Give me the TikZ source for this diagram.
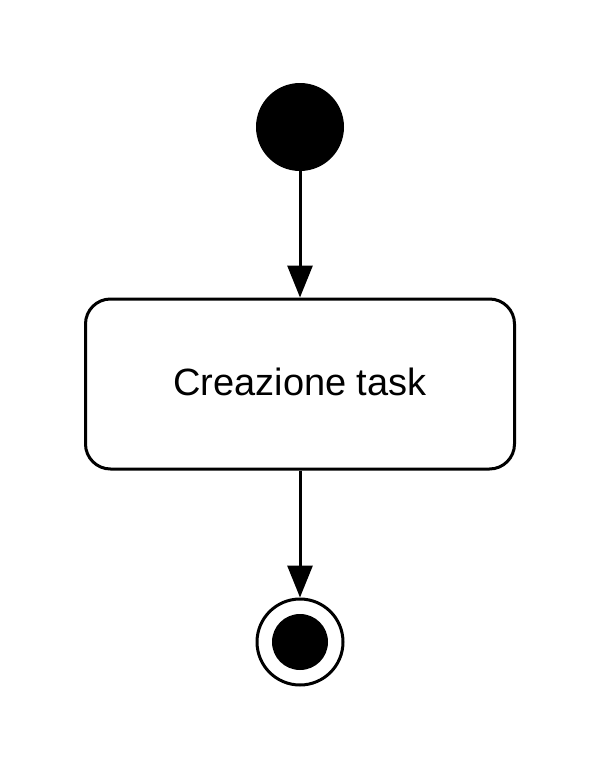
\documentclass[tikz,border=0pt]{standalone}
\usepackage{fontspec}
\setmainfont{Liberation Sans}
\usepackage{tikz}
\usetikzlibrary{arrows.meta,positioning}
\tikzset{
  init/.style ={circle, fill=black, minimum size=88pt, inner sep=0pt},
  act/.style  ={draw, line width=3pt, rounded corners=25pt, align=center, font=\fontsize{38}{44}\selectfont, minimum width=429pt, minimum height=170pt},
  fin/.style  ={draw, circle, line width=3pt, minimum size=86pt, inner sep=0pt},
  finin/.style={circle, fill=black, minimum size=56pt, inner sep=0pt},
  arr/.style  ={-{Triangle[length=32pt,width=25pt]}, line width=3pt},
}
\begin{document}
\begin{tikzpicture}[x=1pt,y=-1pt]
  \useasboundingbox (0,0) rectangle (600,771);
  \node[init] (start) at (300,127) {};
  \node[act] (task) at (300,384) {\raisebox{4pt}{Creazione task}};
  \node[fin] (end) at (300,642) {};
  \node[finin] (endin) at (end.center) {};
  \draw[arr] (start)--(task);
  \draw[arr] (task)--(end);
\end{tikzpicture}
\end{document}
